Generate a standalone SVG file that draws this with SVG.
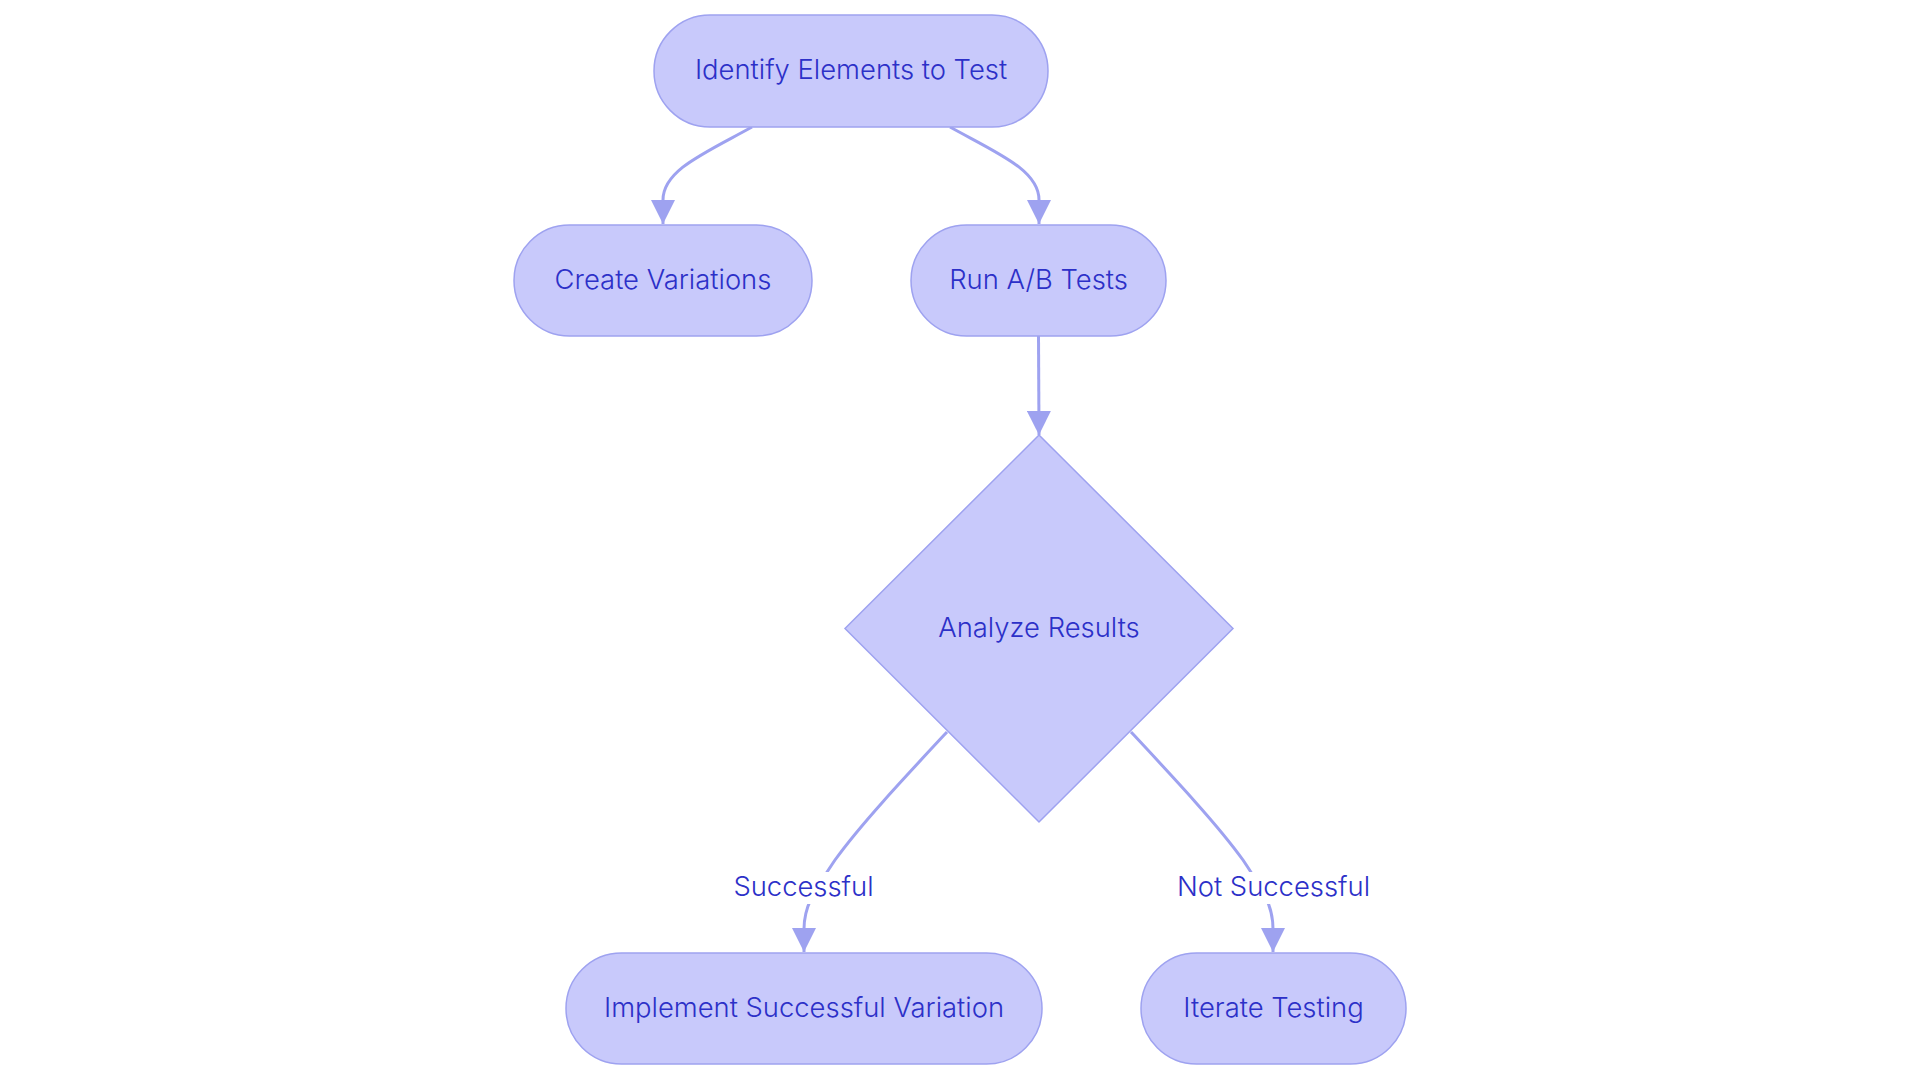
<svg xmlns="http://www.w3.org/2000/svg" width="1920" height="1083" viewBox="0 0 1920 1083">
<defs>
<style>
.node{fill:#c8c9fb;stroke:#9ea2f0;stroke-width:1.5;}
.lbl{font-family:Inter,"Noto Sans","Liberation Sans",sans-serif;font-size:27.4px;font-weight:300;fill:#2c30c8;text-anchor:middle;}
.edge{fill:none;stroke:#9ea2f0;stroke-width:3;}
.elbg{fill:#ffffff;}
</style>
<marker id="arrow" markerUnits="userSpaceOnUse" viewBox="0 0 24 24" refX="24" refY="12" markerWidth="24" markerHeight="24" orient="auto">
<path d="M0,0 L24,12 L0,24 Z" fill="#9ea2f0"/>
</marker>
</defs>
<rect width="1920" height="1083" fill="#ffffff"/>
<g id="connectors">
<path class="edge" d="M752,127 C705,153 663,170 663,200 L663,224" marker-end="url(#arrow)"/>
<path class="edge" d="M950,127 C997,153 1039,170 1039,200 L1039,224" marker-end="url(#arrow)"/>
<path class="edge" d="M1038.5,336 L1039,435" marker-end="url(#arrow)"/>
<path class="edge" d="M947,732 C905,777 860,825 835,860 C815,890 804,905 804,929 L804,952" marker-end="url(#arrow)"/>
<path class="edge" d="M1131,732 C1173,777 1218,825 1243,860 C1263,890 1273,905 1273,929 L1273,952" marker-end="url(#arrow)"/>
<g id="edge-label-successful">
<rect class="elbg" x="733" y="872" width="141" height="32"/>
<text class="lbl" x="803.5" y="896">Successful</text>
</g>
<g id="edge-label-not-successful">
<rect class="elbg" x="1176" y="872" width="195" height="32"/>
<text class="lbl" x="1273.5" y="896">Not Successful</text>
</g>
</g>
<g id="node-identify">
<rect class="node" x="654" y="15" width="394" height="112" rx="56" ry="56"/>
<text class="lbl" x="851" y="79">Identify Elements to Test</text>
</g>
<g id="node-create">
<rect class="node" x="514" y="225" width="298" height="111" rx="55.5" ry="55.5"/>
<text class="lbl" x="663" y="288.5">Create Variations</text>
</g>
<g id="node-run">
<rect class="node" x="911" y="225" width="255" height="111" rx="55.5" ry="55.5"/>
<text class="lbl" x="1038.5" y="288.5">Run A/B Tests</text>
</g>
<g id="node-analyze">
<polygon class="node" points="1039,435 1233,628.5 1039,822 845,628.5"/>
<text class="lbl" x="1039" y="637">Analyze Results</text>
</g>
<g id="node-implement">
<rect class="node" x="566" y="953" width="476" height="111" rx="55.5" ry="55.5"/>
<text class="lbl" x="804" y="1017">Implement Successful Variation</text>
</g>
<g id="node-iterate">
<rect class="node" x="1141" y="953" width="265" height="111" rx="55.5" ry="55.5"/>
<text class="lbl" x="1273.5" y="1017">Iterate Testing</text>
</g>
</svg>
